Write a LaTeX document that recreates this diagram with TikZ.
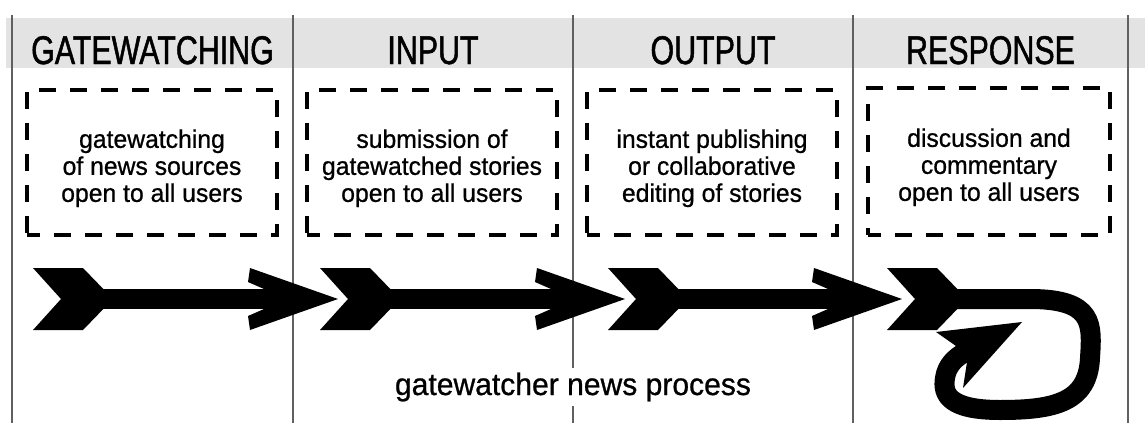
\documentclass[tikz,border=0pt]{standalone}
\usepackage{fontspec}
\setmainfont{Liberation Sans}
\newfontfamily\hdfont[FakeStretch=0.76,FakeBold=1.2]{Liberation Sans}
\newfontfamily\bxfont[FakeStretch=0.97,FakeBold=0.8]{Liberation Sans}
\tikzset{
  colline/.style={draw=gray!75!black, line width=1.5pt},
  band/.style={fill=gray!22, draw=none},
  hdtext/.style={anchor=base, inner sep=0pt, font=\hdfont\fontsize{40}{40}\selectfont},
  dbox/.style={draw=black, line width=4.5pt, dash pattern=on 17pt off 14pt, dash phase=4pt,
    align=center, font=\bxfont\fontsize{25.5}{27}\selectfont, inner sep=0pt},
  arr/.style={fill=black, draw=none},
  bottomlabel/.style={anchor=base, fill=white, inner xsep=1pt, inner ysep=5pt,
    font=\bxfont\fontsize{31}{31}\selectfont}
}
\newcommand{\dn}{\rule{0pt}{30pt}}
\begin{document}
\begin{tikzpicture}[x=1pt,y=-1pt]
\useasboundingbox (0,0) rectangle (1145,423);
% header band
\fill[band] (6,18) rectangle (1145,68);
% column lines
\foreach \xx/\nm in {12/l0,293/l1,573/l2,853/l3,1128/l4}{
  \coordinate (\nm t) at (\xx,15);
  \coordinate (\nm b) at (\xx,423);
  \draw[colline] (\nm t) -- (\nm b);
}
% headers
\node[hdtext] (h1) at (152.5,64) {GATEWATCHING};
\node[hdtext] (h2) at (433,64) {INPUT};
\node[hdtext] (h3) at (713,64) {OUTPUT};
\node[hdtext] (h4) at (990.5,64) {RESPONSE};
% dashed boxes with text
\node[dbox, minimum width=250pt, minimum height=145pt] (b1) at (152,162.5)
  {\dn gatewatching\\of news sources\\open to all users};
\node[dbox, minimum width=250pt, minimum height=145pt] (b2) at (432,162.5)
  {\dn submission of\\gatewatched stories\\open to all users};
\node[dbox, minimum width=250pt, minimum height=145pt] (b3) at (712,162.5)
  {\dn instant publishing\\or collaborative\\editing of stories};
\node[dbox, minimum width=242pt, minimum height=147pt] (b4) at (989,161.5)
  {\dn discussion and\\commentary\\open to all users};
% straight arrows
\foreach \L/\T in {33/338, 320/625, 608/902}{
  \fill[arr] (\L,268) -- (\L+50,268) -- (\L+80,299) -- (\L+50,330) -- (\L,330) -- (\L+28,299) -- cycle;
  \fill[arr] (\L+60,289) rectangle (\T-74,309);
  \fill[arr] (\T-88,268) -- (\T,299) -- (\T-88,330) -- (\T-90,316) -- (\T-74,309)
    -- (\T-74,289) -- (\T-90,282) -- cycle;
}
% loop arrow
\fill[arr] (887,268) -- (937,268) -- (967,299) -- (937,330) -- (887,330) -- (915,299) -- cycle;
\draw[line width=20pt, line join=round] (945,299) -- (1030,299)
  .. controls (1095,299) and (1092,325) .. (1090,358)
  .. controls (1088,402) and (1055,410) .. (1000,410)
  .. controls (950,410) and (942,395) .. (945,378)
  .. controls (947,365) and (955,358) .. (965,352);
\fill[arr] (936,332) -- (1022,322) -- (963,388) -- (967,362) -- (956,346) -- cycle;
% bottom label
\node[bottomlabel] (lab) at (573,395) {gatewatcher news process};
\end{tikzpicture}
\end{document}
